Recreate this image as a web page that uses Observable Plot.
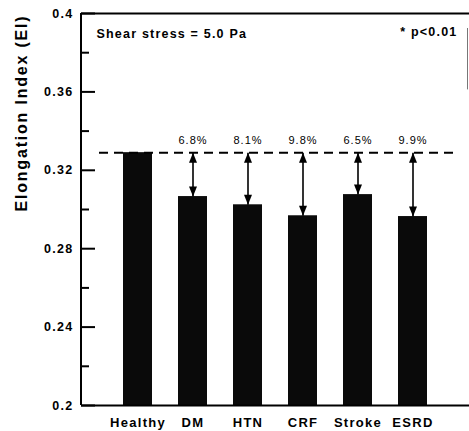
<!DOCTYPE html>
<html><head><meta charset="utf-8">
<script src="https://cdn.jsdelivr.net/npm/d3@7"></script>
<script src="https://cdn.jsdelivr.net/npm/@observablehq/plot@0.6"></script>
<style>
body{margin:0;background:#fff}
svg{display:block}
.ls-axis text{letter-spacing:1.3px}
.ls-title text{letter-spacing:1.8px}
.ls-note text{letter-spacing:1.2px}
.ls-pct text{letter-spacing:1px}
</style>
</head><body><div id="chart"></div>
<script>
const groups = ["Healthy", "DM", "HTN", "CRF", "Stroke", "ESRD"];
const eiValues = [0.329, 0.3066, 0.3024, 0.2968, 0.3076, 0.2964];
const reductions = ["", "6.8%", "8.1%", "9.8%", "6.5%", "9.9%"];
const healthyLevel = 0.329;
const majorTicks = [0.2, 0.24, 0.28, 0.32, 0.36, 0.4];
const majorTickLabels = ["0.2", "0.24", "0.28", "0.32", "0.36", "0.4"];
const minorTicks = [0.22, 0.26, 0.30, 0.34, 0.38];
const yTitle = "Elongation Index (EI)";
const condition = "Shear stress = 5.0 Pa";
const significance = "* p<0.01";

const rows = groups.map((g, i) => ({group: g, ei: eiValues[i], label: reductions[i]}));
const diseased = rows.slice(1);

const W = 469, H = 431, ML = 81, MR = 0, MT = 13, MB = 26;
const frameW = W - ML - MR;

const upTri = {draw(ctx) { ctx.moveTo(0, -5); ctx.lineTo(4, 5); ctx.lineTo(-4, 5); ctx.closePath(); }};
const downTri = {draw(ctx) { ctx.moveTo(0, 5); ctx.lineTo(4, -5); ctx.lineTo(-4, -5); ctx.closePath(); }};

const font = "'Liberation Sans', Arial, Helvetica, sans-serif";

// left axis line (frame side), drawn from the plot's own dimensions and y scale
function leftAxisLine(index, scales, values, dims) {
  const x = dims.marginLeft;
  return d3.create("svg:line")
    .attr("x1", x).attr("x2", x)
    .attr("y1", scales.y(0.4)).attr("y2", scales.y(0.2))
    .attr("stroke", "#000").attr("stroke-width", 2).node();
}
// faint partial right border of the scanned frame
function rightBorder(index, scales, values, dims) {
  const x = dims.width - 1.5;
  return d3.create("svg:line")
    .attr("x1", x).attr("x2", x)
    .attr("y1", scales.y(0.4) + 15).attr("y2", scales.y(0.36) - 2)
    .attr("stroke", "#777").attr("stroke-width", 1).node();
}

const chart = Plot.plot({
  width: W, height: H,
  marginLeft: ML, marginRight: MR, marginTop: MT, marginBottom: MB,
  style: {fontFamily: font, color: "#000", background: "#fff", overflow: "visible"},
  x: {type: "band", domain: groups, paddingInner: 0.48, paddingOuter: 0.74, axis: null},
  y: {domain: [0.2, 0.4], axis: null},
  marks: [
    Plot.barY(rows, {x: "group", y1: 0.2, y2: "ei", fill: "#0a0a0a"}),
    Plot.ruleY([healthyLevel], {stroke: "#000", strokeWidth: 2, strokeDasharray: "9,6", insetLeft: 18, insetRight: 16}),
    Plot.link(diseased, {x1: "group", x2: "group", y1: healthyLevel, y2: "ei", stroke: "#000", strokeWidth: 1.6, insetTop: 4, insetBottom: 4}),
    Plot.dot(diseased, {x: "group", y: healthyLevel, symbol: upTri, fill: "#000", stroke: null, dy: 5}),
    Plot.dot(diseased, {x: "group", y: "ei", symbol: downTri, fill: "#000", stroke: null, dy: -5}),
    Plot.text(diseased, {x: "group", y: healthyLevel, text: "label", dy: -9, lineAnchor: "bottom", fontSize: 11, className: "ls-pct"}),
    Plot.ruleY([0.2], {stroke: "#000", strokeWidth: 2}),
    Plot.ruleY([0.4], {stroke: "#000", strokeWidth: 2}),
    leftAxisLine,
    rightBorder,
    Plot.ruleY(majorTicks, {stroke: "#000", strokeWidth: 2, insetRight: frameW - 14}),
    Plot.ruleY(minorTicks, {stroke: "#000", strokeWidth: 2, insetRight: frameW - 8}),
    Plot.axisY(majorTicks, {tickSize: 0, tickPadding: 8, label: null, tickFormat: d => majorTickLabels[majorTicks.indexOf(d)], fontWeight: "bold", fontSize: 12.5, className: "ls-axis"}),
    Plot.axisX({tickSize: 0, tickPadding: 12, label: null, fontWeight: "bold", fontSize: 13, className: "ls-axis"}),
    Plot.text([yTitle], {frameAnchor: "left", rotate: -90, dx: -60, dy: 2, fontWeight: "bold", fontSize: 16, className: "ls-title"}),
    Plot.text([condition], {frameAnchor: "top-left", dx: 15, dy: 24, textAnchor: "start", lineAnchor: "bottom", fontWeight: "bold", fontSize: 12.5, className: "ls-note"}),
    Plot.text([significance], {frameAnchor: "top-right", dx: -12, dy: 22, textAnchor: "end", lineAnchor: "bottom", fontWeight: "bold", fontSize: 12.5, className: "ls-note"})
  ]
});
document.getElementById("chart").appendChild(chart);
</script>
</body></html>
